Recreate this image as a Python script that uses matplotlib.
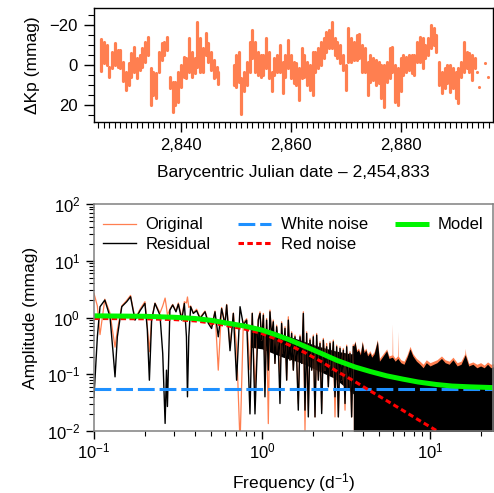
import matplotlib
matplotlib.use("Agg")
import matplotlib.pyplot as plt
from matplotlib.ticker import MultipleLocator, LogLocator, NullFormatter, FixedLocator, FixedFormatter

plt.rcParams['font.family'] = ['Liberation Sans', 'DejaVu Sans']
plt.rcParams['mathtext.fontset'] = 'custom'
plt.rcParams['mathtext.rm'] = 'Liberation Sans'
plt.rcParams['mathtext.it'] = 'Liberation Sans:italic'
plt.rcParams['mathtext.bf'] = 'Liberation Sans:bold'
plt.rcParams['mathtext.sf'] = 'Liberation Sans'

# ---------------- Light curve (binned ranges, 0.5 d) ----------------
lc_time = [2825.5, 2826.0, 2826.5, 2827.0, 2827.5, 2828.0, 2828.5, 2829.0, 2829.5, 2830.0,
           2830.5, 2831.0, 2831.5, 2832.0, 2832.5, 2833.0, 2833.5, 2834.0, 2834.5, 2835.0,
           2835.5, 2836.0, 2836.5, 2837.0, 2837.5, 2838.0, 2838.5, 2839.0, 2839.5, 2840.0,
           2840.5, 2841.0, 2841.5, 2842.0, 2842.5, 2843.0, 2843.5, 2844.0, 2844.5, 2845.0,
           2845.5, 2846.0, 2846.5, 2846.8,
           2849.7, 2850.0, 2850.5, 2851.0, 2851.5, 2852.0, 2852.5, 2853.0, 2853.5, 2854.0,
           2854.5, 2855.0, 2855.5, 2856.0, 2856.5, 2857.0, 2857.5, 2858.0, 2858.5, 2859.0,
           2859.5, 2860.0, 2860.5, 2861.0, 2861.5, 2862.0, 2862.5, 2863.0, 2863.5, 2864.0,
           2864.5, 2865.0, 2865.5, 2866.0, 2866.5, 2867.0, 2867.5, 2868.0, 2868.5, 2869.0,
           2869.5, 2870.0, 2870.5, 2871.0, 2871.5, 2872.0, 2872.5, 2873.0, 2873.5, 2874.0,
           2874.5, 2875.0, 2875.5, 2876.0, 2876.5, 2877.0, 2877.5, 2878.0, 2878.5, 2879.0,
           2879.5, 2880.0, 2880.5, 2881.0, 2881.5, 2882.0, 2882.5, 2883.0, 2883.5, 2884.0,
           2884.5, 2885.0, 2885.5, 2886.0, 2886.5, 2887.0, 2887.5, 2888.0, 2888.5, 2889.0,
           2889.5, 2890.0, 2890.5, 2891.0, 2891.5, 2892.0, 2892.5, 2893.0, 2893.5]
lc_lo = [-13, -11.5, -10, 1, -6.6, -10.7, -7.5, -7.5, -1.6, 3.3,
         -1, -5.8, -9, -3.3, -5, -8.3, -11.6, -13.7, 1.6, 3.3,
         4, -6.6, -10.7, -11.6, -13.7, 5.8, 8.3, 8.3, 3.3, 0,
         -4, -3.3, -13.2, -6.6, -3.3, -21.2, -13.2, -8.3, -15.7, -10.7,
         -6.6, -2.5, 1, 3.3,
         0, -5, -6.6, 6.6, 3.3, -1.6, -11.6, -17.4, -11.6, -6.6,
         -5, -5, -13.2, -6.6, 3.3, -3.3, -5, -9.9, -1.6, -5,
         -12.4, -5, -1.6, -0.8, 1.6, -8.3, -5, -1.6, 0, -6.6,
         -6.6, -8.3, -11.6, -13.2, -16.5, -17.4, -21.5, -13.2, -11.6, -9.9,
         -5, 0, -18.2, -13.2, -11.6, -14.9, -15.2, -9.9, -8.3, -1.6,
         -5, -3.3, -2.5, -1.6, 0, 0, -1.6, -8.3, -9, 0,
         1.6, -3.3, -5, -4, -4.8, -5, -5, -11.6, -14, -13.2,
         -9.9, -13.2, -19.8, -18.2, -14.9, -1.6, 3.3, 1.6, 0, 0,
         1.6, 3.3, 1.6, -1.6, -11.2, -6.6, -5.8, -5, -3.3]
lc_hi = [3, -1, 0, 6, 1.6, 0, 1, 1.6, 8, 12.4,
         9.9, 5.8, 3.3, 6.6, 2.5, 1, -1.6, -5, 19.9, 14.9,
         16.5, 3.3, -2.5, -5, -7.5, 11.6, 23.2, 19.9, 18.2, 10.7,
         5.8, 6.6, 3.3, 5.8, 4, 1, 3.3, 3.3, -5, -1.6,
         2.5, 6.6, 5.8, 9.5,
         9.9, 10.7, 8.3, 24.5, 13, 9.9, 3.3, -3.3, 3.3, 5,
         5.8, 5, 1.6, 6.6, 13, 5, 3.3, 3.3, 14, 5.8,
         1.6, 6.6, 9, 9.9, 17.4, 6.6, 5.8, 9.9, 12.4, 14.9,
         3.3, 1.6, 0, -3.3, -6.6, -8.3, -8.3, -5, -3.3, -0.8,
         2.5, 12.4, -1.6, -1.6, -2.5, -2.5, -3.3, 3.3, 3.3, 14.9,
         8.3, 7.4, 9.9, 9, 16.5, 20.7, 8.3, 6.6, 3.3, 18.2,
         19.9, 13, 5, 3.3, 2.5, 4, 5, -1.6, -1.6, 1.6,
         -3.3, -5, -8.3, -9.9, -6.6, 9.9, 14, 11.6, 9, 13.2,
         11.6, 16.5, 19, 5.8, 3.3, 1.6, 3.3, 7.4, 1.6]
lc_sparse_time = [2893.9, 2894.2, 2895.3, 2895.8]
lc_sparse_mag = [3.3, 11.1, -0.8, 5.8]

lc_xticks = [2840, 2860, 2880]
lc_xticklabels = ['2,840', '2,860', '2,880']
lc_yticks = [-20, 0, 20]
lc_yticklabels = ['\u221220', '0', '20']

# ---------------- Amplitude spectrum ----------------
low_freq = [0.100, 0.1047, 0.1086, 0.116, 0.1245, 0.130, 0.1334, 0.1377, 0.1463, 0.1566,
            0.165, 0.1754, 0.188, 0.201, 0.2076, 0.2136, 0.2203, 0.2307, 0.247, 0.2565,
            0.265, 0.270, 0.2735, 0.283, 0.294, 0.3076, 0.3177, 0.3327, 0.345, 0.355,
            0.360, 0.3666, 0.376, 0.390, 0.408, 0.4275, 0.458, 0.479, 0.501, 0.525,
            0.549, 0.575, 0.602, 0.616, 0.645, 0.675, 0.706, 0.740, 0.774, 0.810,
            0.848, 0.875, 0.908, 0.950]
low_residual = [0.040, 0.457, 1.55, 2.03, 1.03, 0.232, 0.090, 0.457, 1.55, 1.9,
                2.32, 0.90, 1.32, 1.77, 0.62, 0.0785, 0.90, 1.77, 1.10, 0.232,
                0.0136, 0.118, 0.027, 1.35, 1.66, 1.26, 1.72, 0.90, 1.77, 0.457,
                0.040, 0.457, 1.55, 1.18, 1.32, 0.96, 1.26, 0.79, 0.64, 1.26,
                0.457, 1.43, 0.74, 1.66, 0.26, 1.18, 0.0785, 1.55, 0.74, 0.90,
                0.020, 1.18, 0.020, 0.90]
low_original = [2.65, 1.6, 0.5, 2.1, 1.2, 0.5, 0.3, 0.6, 1.6, 2.0,
                2.45, 0.95, 1.4, 1.9, 0.7, 0.25, 0.95, 1.8, 1.2, 1.6,
                2.2, 1.5, 1.1, 1.4, 1.7, 1.3, 1.8, 1.0, 1.9, 1.8,
                2.3, 1.5, 1.6, 1.2, 1.4, 1.0, 1.3, 0.85, 0.7, 1.3,
                0.118, 1.5, 0.8, 1.7, 0.3, 1.2, 0.3, 0.006, 0.8, 0.95,
                0.12, 1.2, 0.05, 0.95]

mid_freq = [0.973, 0.995, 1.019, 1.041, 1.065, 1.090, 1.115, 1.141, 1.167, 1.194,
            1.222, 1.250, 1.279, 1.308, 1.339, 1.370, 1.402, 1.434, 1.467, 1.501,
            1.536, 1.571, 1.607, 1.644, 1.683, 1.722, 1.762, 1.802, 1.844, 1.886,
            1.930, 1.975, 2.020, 2.067, 2.115, 2.164, 2.214, 2.265, 2.317, 2.371,
            2.425, 2.481, 2.539, 2.597, 2.657, 2.719, 2.782, 2.846, 2.912, 2.979,
            3.048, 3.119, 3.191, 3.265, 3.339, 3.415, 3.494]
mid_residual = [1.18, 0.40, 1.10, 0.040, 0.90, 0.118, 1.26, 0.457, 0.84, 0.155,
                0.687, 0.305, 0.0305, 0.785, 0.232, 0.641, 0.0787, 0.90, 0.177, 0.524,
                0.118, 0.457, 0.203, 0.0233, 0.457, 0.155, 1.18, 0.0233, 0.524, 0.0177,
                0.40, 0.118, 0.457, 0.0177, 0.49, 0.0787, 0.349, 0.0203, 0.40, 0.118,
                0.305, 0.060, 0.349, 0.118, 0.373, 0.040, 0.305, 0.0177, 0.285, 0.0787,
                0.266, 0.0305, 0.305, 0.0524, 0.232, 0.0177, 0.305]
mid_original = [1.26, 0.40, 1.18, 0.118, 0.96, 0.0135, 1.35, 0.457, 0.90, 0.155,
                0.734, 0.305, 0.0787, 0.84, 0.232, 0.687, 0.0787, 1.03, 0.177, 0.56,
                0.118, 0.49, 0.203, 0.0305, 0.49, 0.155, 1.26, 0.0103, 0.56, 0.0233,
                0.428, 0.118, 0.49, 0.0177, 0.524, 0.0787, 0.373, 0.0233, 0.428, 0.118,
                0.349, 0.060, 0.373, 0.118, 0.40, 0.0177, 0.326, 0.0177, 0.305, 0.0787,
                0.285, 0.0233, 0.326, 0.0524, 0.249, 0.0177, 0.326]

# dense core of the residual spectrum between 0.85 and 3.5 d^-1
band_freq = [0.85, 1.0, 1.33, 1.7, 2.1, 2.7, 3.35, 3.5]
band_lo = [0.30, 0.28, 0.20, 0.16, 0.12, 0.085, 0.05, 0.045]
band_hi = [0.70, 0.65, 0.50, 0.40, 0.32, 0.26, 0.23, 0.23]

# upper envelope of the residual spectrum above 3.5 d^-1 (filled to the bottom)
high_freq = [3.494, 3.58, 3.66, 3.75, 3.85, 3.95, 4.05, 4.15, 4.25, 4.39,
             4.5, 4.65, 4.86, 5.0, 5.2, 5.52, 5.7, 5.97, 6.2, 6.43,
             6.7, 7.0, 7.3, 7.6, 7.9, 8.3, 8.7, 9.1, 9.5, 10.0,
             10.5, 11.0, 11.7, 12.3, 13.0, 13.7, 14.5, 15.3, 16.2, 17.0,
             18.0, 19.0, 20.0, 21.0, 22.0, 23.0, 24.5]
high_residual_top = [0.30, 0.373, 0.25, 0.27, 0.22, 0.37, 0.24, 0.27, 0.21, 0.24,
                     0.20, 0.23, 0.39, 0.17, 0.20, 0.26, 0.19, 0.20, 0.17, 0.19,
                     0.16, 0.15, 0.20, 0.28, 0.21, 0.17, 0.15, 0.13, 0.16, 0.14,
                     0.15, 0.16, 0.19, 0.16, 0.15, 0.18, 0.14, 0.15, 0.22, 0.14,
                     0.15, 0.13, 0.14, 0.13, 0.15, 0.13, 0.14]
high_original_freq = [3.494, 3.58, 3.66, 3.75, 3.85, 3.95, 4.05, 4.15, 4.25, 4.39,
                      4.5, 4.65, 4.86, 5.0, 5.2, 5.52, 5.7, 5.94, 5.97, 6.0,
                      6.2, 6.40, 6.43, 6.46, 6.7, 7.0, 7.3, 7.6, 7.9, 8.3,
                      8.7, 9.1, 9.5, 10.0, 10.5, 11.0, 11.7, 12.3, 13.0, 13.7,
                      14.5, 15.3, 16.1, 16.2, 16.3, 17.0, 18.0, 19.0, 20.0, 21.0,
                      22.0, 23.0, 24.5]
high_original_top = [0.32, 0.39, 0.27, 0.29, 0.24, 0.39, 0.26, 0.29, 0.23, 0.26,
                     0.22, 0.25, 0.41, 0.19, 0.22, 0.28, 0.21, 0.22, 0.77, 0.22,
                     0.19, 0.21, 0.57, 0.21, 0.18, 0.17, 0.22, 0.31, 0.23, 0.19,
                     0.17, 0.15, 0.18, 0.16, 0.17, 0.18, 0.21, 0.18, 0.17, 0.20,
                     0.16, 0.17, 0.23, 0.285, 0.23, 0.155, 0.165, 0.15, 0.16, 0.145,
                     0.165, 0.15, 0.155]

white_freq = [0.1, 24.5]
white_amp = [0.056, 0.056]
red_freq = [0.1, 0.2, 0.3, 0.4, 0.5, 0.6, 0.8, 1.0, 1.2, 1.44,
            1.8, 2.26, 2.8, 3.58, 4.4, 5.5, 6.9, 8.5, 10.9, 13.0]
red_amp = [0.96, 0.95, 0.92, 0.87, 0.80, 0.73, 0.62, 0.52, 0.42, 0.33,
           0.24, 0.166, 0.112, 0.074, 0.051, 0.0345, 0.023, 0.0158, 0.0102, 0.0074]
model_freq = [0.1, 0.2, 0.3, 0.4, 0.5, 0.6, 0.8, 1.0, 1.2, 1.44,
              1.8, 2.26, 2.8, 3.58, 4.4, 5.5, 6.9, 8.5, 10.9, 13.5,
              17.3, 24.5]
model_amp = [1.07, 1.05, 1.01, 0.96, 0.89, 0.81, 0.70, 0.60, 0.50, 0.41,
             0.31, 0.232, 0.175, 0.134, 0.112, 0.094, 0.082, 0.073, 0.066, 0.062,
             0.060, 0.058]

ORANGE = '#FF7F50'
GREEN = '#00F500'
BLUE = '#1E90FF'
RED = '#FF0000'

W, H = 494, 493
fig = plt.figure(figsize=(W / 100, H / 100), dpi=100)
ax1 = fig.add_axes([94 / W, 1 - 122 / H, 399 / W, 114 / H])
ax2 = fig.add_axes([94 / W, 1 - 431 / H, 399 / W, 227 / H])

# ---- top panel ----
vl = ax1.vlines(lc_time, lc_lo, lc_hi, color=ORANGE, lw=2.3)
vl.set_capstyle('round')
ax1.scatter(lc_sparse_time, lc_sparse_mag, s=5, color=ORANGE, lw=0)
ax1.set_xlim(2824.2, 2896.8)
ax1.set_ylim(28.3, -28.3)
ax1.xaxis.set_major_locator(FixedLocator(lc_xticks))
ax1.xaxis.set_major_formatter(FixedFormatter(lc_xticklabels))
ax1.xaxis.set_minor_locator(MultipleLocator(1))
ax1.yaxis.set_major_locator(FixedLocator(lc_yticks))
ax1.yaxis.set_major_formatter(FixedFormatter(lc_yticklabels))
ax1.yaxis.set_minor_locator(MultipleLocator(5))
ax1.tick_params(which='major', direction='out', length=7, width=1, labelsize=12, pad=4.5)
ax1.tick_params(which='minor', direction='out', length=4, width=0.8)
ax1.set_xlabel('Barycentric Julian date \u2013 2,454,833', fontsize=12.5, labelpad=9)
ax1.set_ylabel('\u0394Kp (mmag)', fontsize=12.5, labelpad=7)
for s in ax1.spines.values():
    s.set_linewidth(1)

# ---- bottom panel ----
ax2.set_xscale('log')
ax2.set_yscale('log')
ax2.plot(low_freq + mid_freq, low_original + mid_original, color=ORANGE, lw=0.9,
         label='Original')
ax2.fill_between(high_original_freq, 1e-4, high_original_top, color=ORANGE, lw=0)
ax2.fill_between(band_freq, band_lo, band_hi, color='black', lw=0)
ax2.plot(low_freq + mid_freq, low_residual + mid_residual, color='black', lw=1.0,
         label='Residual')
ax2.fill_between(high_freq, 1e-4, high_residual_top, color='black', lw=0)
ax2.plot(white_freq, white_amp, color=BLUE, lw=2.2, dashes=(5.5, 1.6), label='White noise')
ax2.plot(red_freq, red_amp, color=RED, lw=2.2, dashes=(1.8, 1.1), label='Red noise')
ax2.plot(model_freq, model_amp, color=GREEN, lw=3.6, solid_capstyle='butt', label='Model')

ax2.set_xlim(0.1, 23.7)
ax2.set_ylim(0.01, 100)
ax2.xaxis.set_major_locator(LogLocator(base=10, numticks=10))
ax2.xaxis.set_minor_locator(LogLocator(base=10, subs=range(2, 10), numticks=30))
ax2.xaxis.set_minor_formatter(NullFormatter())
ax2.yaxis.set_major_locator(LogLocator(base=10, numticks=10))
ax2.yaxis.set_minor_locator(LogLocator(base=10, subs=range(2, 10), numticks=30))
ax2.yaxis.set_minor_formatter(NullFormatter())
ax2.tick_params(which='major', direction='out', length=6, width=1, labelsize=12, pad=4)
ax2.tick_params(axis='x', which='major', pad=1.5)
ax2.tick_params(which='minor', direction='out', length=3.5, width=0.8)
ax2.set_xlabel('Frequency (d$^{-1}$)', fontsize=12.5, labelpad=7)
ax2.set_ylabel('Amplitude (mmag)', fontsize=12.5, labelpad=6)
for s in ax2.spines.values():
    s.set_linewidth(1.1)
    s.set_color('#808080')

ax2.legend(loc='upper left', bbox_to_anchor=(0.01, 0.963), ncol=3, frameon=False,
           fontsize=12, handlelength=2.0, handletextpad=0.55, columnspacing=1.65,
           labelspacing=0.25, borderaxespad=0, borderpad=0.3)

fig.savefig('out.png', dpi=100)
